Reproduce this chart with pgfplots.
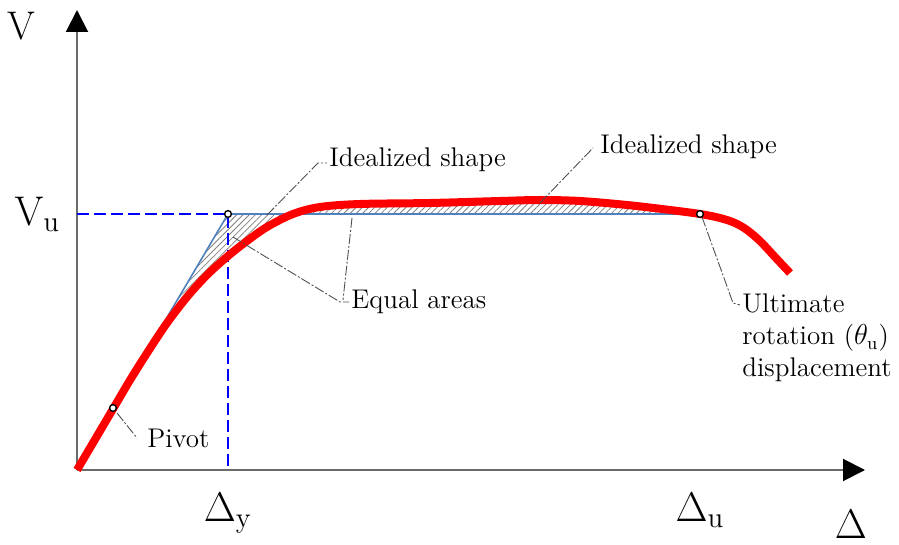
\documentclass[border=0pt]{standalone}
\usepackage{pgfplots}
\pgfplotsset{compat=1.18}
\usepgfplotslibrary{fillbetween}
\usetikzlibrary{arrows.meta,patterns.meta}
\definecolor{idealblue}{HTML}{4F81BD}
\definecolor{leader}{HTML}{505050}
\definecolor{axisgray}{HTML}{6A6A6A}
\pgfplotstableread{
d    V
0    0
18   30.5
36   61
54   91.5
72   120
90   147
110  173
130  195
151  214
170  229
190  243
216  256
243  263
283  266
353  267
423  269
463  270
503  269
550  265
593  260
623  256
643  252
658  247
670  240
683  229
698  213
713  197
}\capacity
\begin{document}
\begin{tikzpicture}
\begin{axis}[
  x=0.5pt, y=0.5pt, scale only axis,
  xmin=0, xmax=788, ymin=0, ymax=460,
  clip=false,
  axis lines=left,
  axis line style={draw=axisgray, line width=1pt},
  x axis line style={-{Triangle[length=11pt,width=11pt,color=black]}},
  y axis line style={-{Triangle[length=11pt,width=11pt,color=black]}},
  major tick length=0pt,
  xtick={151,623},
  xticklabels={$\Delta_{\mathrm{y}}$,$\Delta_{\mathrm{u}}$},
  ytick={256},
  yticklabels={$\mathrm{V_u}$},
  xticklabel style={font=\fontsize{20}{24}\selectfont, yshift=-8pt},
  yticklabel style={font=\fontsize{20}{24}\selectfont, xshift=-5pt},
]
% canvas extent
\path (axis cs:-77,-73) rectangle (axis cs:822,470);

% actual capacity curve (path only, for the fill)
\addplot[name path=cap, draw=none, smooth, tension=0.55] table[x=d, y=V] {\capacity};
% idealized bilinear shape
\addplot[name path=ideal, draw=none] coordinates {(0,0)(151,256)(623,256)};

% equal areas
\addplot[pattern={Lines[angle=45,distance=2.2pt,line width=0.4pt]}, pattern color=gray]
  fill between[of=cap and ideal, soft clip={domain=0:623}];

% yield reference lines
\addplot[blue, line width=0.7pt, dash pattern=on 6pt off 2.5pt] coordinates {(0,256)(151,256)(151,0)};
\addplot[idealblue, line width=0.8pt] coordinates {(0,0)(151,256)(623,256)};

\addplot[red, line width=4pt, smooth, tension=0.55] table[x=d, y=V] {\capacity};

% leaders
\tikzset{lead/.style={leader, line width=0.45pt, dash pattern=on 5pt off 1pt on 1pt off 1pt}}
\draw[lead] (axis cs:190,255) -- (axis cs:241,307) -- (axis cs:250,307);
\draw[lead] (axis cs:463,267) -- (axis cs:516,322);
\draw[lead] (axis cs:156,233) -- (axis cs:263,168) -- (axis cs:272,168);
\draw[lead] (axis cs:275,252) -- (axis cs:266,170);
\draw[lead] (axis cs:40,57) -- (axis cs:60,32);
\draw[lead] (axis cs:625,253) -- (axis cs:656,167) -- (axis cs:663,165);

% key points
\addplot[only marks, mark=*, mark size=1.7pt, mark options={fill=white, draw=black, line width=0.7pt}]
  coordinates {(36,62)(151,256)(623,256)};

% annotations
\tikzset{ann/.style={font=\fontsize{13.5}{16}\selectfont, inner sep=0pt}}
\node[ann, anchor=west] at (axis cs:252,310) {Idealized shape};
\node[ann, anchor=west] at (axis cs:523,323) {Idealized shape};
\node[ann, anchor=west] at (axis cs:274,168) {Equal areas};
\node[ann, anchor=west] at (axis cs:70,32) {Pivot};
\node[ann, anchor=base west] at (axis cs:665,157) {Ultimate};
\node[ann, anchor=base west] at (axis cs:665,125) {rotation ($\theta_{\mathrm{u}}$)};
\node[ann, anchor=base west] at (axis cs:665,93) {displacement};

\node[font=\fontsize{20}{24}\selectfont] at (axis cs:-56,444) {V};
\node[font=\fontsize{20}{24}\selectfont] at (axis cs:774,-54) {$\Delta$};
\end{axis}
\end{tikzpicture}
\end{document}
